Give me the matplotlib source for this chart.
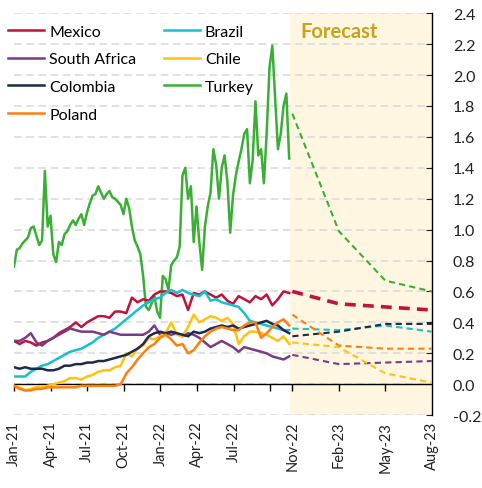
import numpy as np
import pandas as pd
import matplotlib
matplotlib.use('Agg')
import matplotlib.pyplot as plt

plt.rcParams['font.family'] = ['Lato', 'DejaVu Sans']

# history: Turkey weekly, the others every two weeks, starting 1 Jan 2021
turkey_hist = [0.76, 0.87, 0.88, 0.91, 0.93, 0.95, 1.01, 1.02, 0.96, 0.90,
               0.93, 1.38, 1.02, 1.09, 0.84, 0.79, 0.92, 0.90, 0.97, 0.99,
               1.03, 1.06, 1.03, 1.07, 1.10, 1.03, 1.11, 1.17, 1.22, 1.23,
               1.28, 1.24, 1.20, 1.23, 1.25, 1.21, 1.20, 1.18, 1.16, 1.10,
               1.20, 1.14, 1.02, 0.93, 0.89, 0.84, 0.70, 0.50, 0.48, 0.52,
               0.57, 0.47, 0.43, 0.70, 0.68, 0.61, 0.77, 0.80, 0.82, 0.89,
               1.35, 1.40, 1.20, 1.28, 0.92, 1.15, 0.92, 0.74, 1.02, 1.15,
               1.24, 1.52, 1.42, 1.20, 1.40, 1.48, 1.31, 0.98, 1.22, 1.35,
               1.44, 1.52, 1.62, 1.65, 1.30, 1.45, 1.83, 1.48, 1.52, 1.30,
               1.63, 2.05, 2.19, 1.85, 1.52, 1.62, 1.80, 1.88, 1.46]

mexico_hist = [0.28, 0.26, 0.28, 0.27, 0.25, 0.27, 0.28, 0.30, 0.33, 0.35,
               0.37, 0.40, 0.37, 0.40, 0.42, 0.44, 0.44, 0.43, 0.47, 0.47,
               0.46, 0.56, 0.53, 0.55, 0.54, 0.58, 0.60, 0.60, 0.59, 0.57,
               0.58, 0.48, 0.59, 0.58, 0.60, 0.58, 0.56, 0.58, 0.54, 0.52,
               0.57, 0.55, 0.53, 0.57, 0.55, 0.58, 0.51, 0.55, 0.60, 0.59]
brazil_hist = [0.05, 0.05, 0.05, 0.08, 0.10, 0.12, 0.13, 0.15, 0.17, 0.19,
               0.21, 0.22, 0.23, 0.25, 0.27, 0.30, 0.32, 0.34, 0.36, 0.39,
               0.42, 0.45, 0.48, 0.51, 0.53, 0.55, 0.56, 0.59, 0.61, 0.59,
               0.61, 0.59, 0.58, 0.57, 0.60, 0.54, 0.55, 0.53, 0.52, 0.51,
               0.50, 0.46, 0.41, 0.40, 0.39, 0.38, 0.37, 0.36, 0.35, 0.35]
safrica_hist = [0.28, 0.28, 0.30, 0.33, 0.27, 0.25, 0.28, 0.30, 0.32, 0.34,
                0.36, 0.35, 0.34, 0.34, 0.34, 0.33, 0.32, 0.34, 0.33, 0.32,
                0.32, 0.32, 0.32, 0.32, 0.34, 0.38, 0.32, 0.33, 0.32, 0.33,
                0.31, 0.33, 0.32, 0.30, 0.27, 0.24, 0.26, 0.28, 0.26, 0.24,
                0.21, 0.24, 0.23, 0.22, 0.21, 0.20, 0.18, 0.17, 0.16, 0.18]
colombia_hist = [0.11, 0.10, 0.11, 0.10, 0.10, 0.10, 0.09, 0.09, 0.10, 0.12,
                 0.12, 0.13, 0.13, 0.14, 0.14, 0.15, 0.15, 0.16, 0.17, 0.18,
                 0.19, 0.21, 0.23, 0.26, 0.31, 0.33, 0.34, 0.33, 0.34, 0.33,
                 0.32, 0.31, 0.34, 0.33, 0.34, 0.36, 0.37, 0.38, 0.37, 0.38,
                 0.36, 0.37, 0.38, 0.39, 0.40, 0.41, 0.39, 0.38, 0.35, 0.33]
chile_hist = [-0.01, -0.02, -0.04, -0.03, -0.02, -0.02, -0.01, 0.00, 0.01, 0.02,
              0.04, 0.04, 0.03, 0.05, 0.06, 0.08, 0.09, 0.09, 0.11, 0.12,
              0.20, 0.18, 0.23, 0.25, 0.30, 0.29, 0.31, 0.33, 0.40, 0.32,
              0.31, 0.37, 0.45, 0.40, 0.42, 0.44, 0.43, 0.41, 0.43, 0.39,
              0.26, 0.31, 0.34, 0.34, 0.33, 0.32, 0.30, 0.28, 0.31, 0.26]
poland_hist = [-0.01, -0.03, -0.04, -0.04, -0.03, -0.03, -0.02, -0.02, -0.02, -0.02,
               -0.02, -0.02, -0.01, -0.01, -0.01, -0.01, -0.01, -0.01, -0.01, 0.00,
               0.07, 0.11, 0.16, 0.20, 0.24, 0.26, 0.30, 0.32, 0.29, 0.25,
               0.26, 0.20, 0.22, 0.27, 0.31, 0.34, 0.36, 0.37, 0.36, 0.35,
               0.35, 0.38, 0.40, 0.40, 0.30, 0.33, 0.37, 0.40, 0.42, 0.38]

# quarterly forecasts
fc_labels = ['Nov-22', 'Feb-23', 'May-23', 'Aug-23']
mexico_fc = [0.60, 0.52, 0.50, 0.48]
brazil_fc = [0.36, 0.35, 0.38, 0.34]
safrica_fc = [0.19, 0.13, 0.14, 0.15]
colombia_fc = [0.31, 0.34, 0.39, 0.39]
chile_fc = [0.27, 0.24, 0.07, 0.01]
poland_fc = [0.45, 0.25, 0.23, 0.23]
turkey_fc = [1.75, 0.99, 0.67, 0.60]

hist_labels = ['Jan-21', 'Apr-21', 'Jul-21', 'Oct-21', 'Jan-22', 'Apr-22', 'Jul-22']

start = pd.Timestamp('2021-01-01')
weekly = pd.date_range(start, periods=len(turkey_hist), freq='7D')
biweekly = pd.date_range(start, periods=len(mexico_hist), freq='14D')

QTR_DAYS = 91.3     # history axis: one unit per quarter
FC_START = 7.6      # forecast section uses its own, wider spacing
FC_STEP = 1.27


def hist_pos(dates):
    return (dates - start).days.values / QTR_DAYS


fc_x = FC_START + FC_STEP * np.arange(len(fc_labels))

fig = plt.figure(figsize=(4.82, 4.89), dpi=100)
ax = fig.add_axes([0.029, 0.149, 0.867, 0.822])

ax.axvspan(7.55, fc_x[-1], color='#FFF6E1', zorder=0, lw=0)

series = [
    ('Turkey', weekly, turkey_hist, turkey_fc, '#3BAF35', 1.5),
    ('Mexico', biweekly, mexico_hist, mexico_fc, '#C0123C', 2.6),
    ('Brazil', biweekly, brazil_hist, brazil_fc, '#17BFCF', 1.5),
    ('South Africa', biweekly, safrica_hist, safrica_fc, '#7A3A86', 1.5),
    ('Chile', biweekly, chile_hist, chile_fc, '#FFC20E', 1.5),
    ('Colombia', biweekly, colombia_hist, colombia_fc, '#1C2B4A', 1.5),
    ('Poland', biweekly, poland_hist, poland_fc, '#FF7F0E', 1.5),
]
handles = {}
for name, d, h, f, c, flw in series:
    ln, = ax.plot(hist_pos(d), h, color=c, lw=1.8, label=name, zorder=3)
    ax.plot(fc_x, f, color=c, lw=flw, ls=(0, (3, 2)), zorder=3)
    handles[name] = ln

ax.set_ylim(-0.2, 2.4)
ax.set_xlim(0, fc_x[-1])
ax.set_yticks(np.arange(-0.2, 2.41, 0.2))
ax.yaxis.set_major_formatter(matplotlib.ticker.FormatStrFormatter('%.1f'))
ax.yaxis.tick_right()
ax.grid(axis='y', color='#D9D9D9', ls=(0, (5, 3)), lw=1.1, zorder=1)
ax.set_axisbelow(True)
for s in ['left', 'top', 'bottom']:
    ax.spines[s].set_visible(False)
ax.spines['right'].set_linewidth(1.0)
ax.tick_params(axis='y', direction='in', length=4, pad=15, labelsize=11.5,
               colors='#222222')

ax.axhline(0, color='black', lw=1.0, zorder=2)

xt = list(np.arange(len(hist_labels))) + list(fc_x)
ax.set_xticks(xt)
ax.set_xticklabels(hist_labels + fc_labels, rotation=90, fontsize=10.5,
                   color='#222222')
ax.tick_params(axis='x', length=0, pad=4)

zero_axis = ax.secondary_xaxis(0.2 / 2.6)
zero_axis.set_xticks(list(np.arange(8)) + list(fc_x[:-1]))
zero_axis.set_xticklabels([])
zero_axis.tick_params(axis='x', direction='out', length=5, width=1.0)
zero_axis.spines['bottom'].set_visible(False)

ax.text(8.88, 2.285, 'Forecast', fontsize=14.5, fontweight='bold',
        color='#C9A21B', ha='center', va='center')

order = ['Mexico', 'South Africa', 'Colombia', 'Poland', 'Brazil', 'Chile', 'Turkey']
ax.legend([handles[n] for n in order], order, ncol=2, frameon=False,
          loc='upper left', bbox_to_anchor=(-0.048, 1.008), fontsize=11.5,
          handlelength=2.25, handletextpad=0.3, labelspacing=0.85,
          columnspacing=1.75)

fig.savefig('out.png', dpi=100)
